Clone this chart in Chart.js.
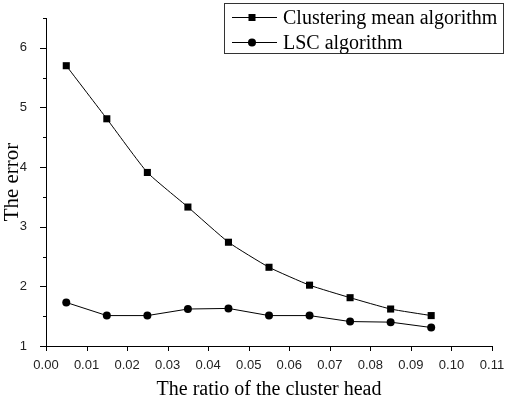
<!DOCTYPE html>
<html><head><meta charset="utf-8">
<script src="https://cdn.jsdelivr.net/npm/chart.js@4"></script>
<style>html,body{margin:0;padding:0;background:#fff}#wrap{width:506px;height:402px}</style>
</head><body><div id="wrap"><canvas id="c" width="506" height="402"></canvas></div>
<script>
const ratios = [0.005,0.015,0.025,0.035,0.045,0.055,0.065,0.075,0.085,0.095];
const clusteringMean = [5.70,4.81,3.91,3.33,2.74,2.32,2.02,1.81,1.62,1.51];
const lscValues = [1.73,1.51,1.51,1.62,1.63,1.51,1.51,1.41,1.40,1.31];
const seriesNames = ['Clustering mean algorithm','LSC algorithm'];
const xTitle = 'The ratio of the cluster head';
const yTitle = 'The error';

const serif = '"Liberation Serif","Times New Roman",serif';
const sans = '"Liberation Sans",Arial,sans-serif';

const ticksPlugin = {
  id:'ticksPlugin',
  afterDraw(chart){
    const ctx = chart.ctx, x = chart.scales.x, y = chart.scales.y;
    const a = chart.chartArea;
    ctx.save();
    ctx.strokeStyle = '#000'; ctx.lineWidth = 1;
    ctx.beginPath();
    y.ticks.forEach(t=>{
      const py = Math.round(y.getPixelForValue(t.value))+0.5;
      const major = Math.abs(t.value - Math.round(t.value))<1e-6;
      ctx.moveTo(a.left, py); ctx.lineTo(a.left-(major?6:3), py);
    });
    x.ticks.forEach(t=>{
      const px = Math.round(x.getPixelForValue(t.value))+0.5;
      ctx.moveTo(px, a.bottom); ctx.lineTo(px, a.bottom+5);
    });
    ctx.stroke();
    // legend
    const bx=224.5, by=3.5, bw=279, bh=50;
    ctx.strokeStyle='#333'; ctx.lineWidth=1;
    ctx.strokeRect(bx,by,bw,bh);
    const rows=[17,42];
    chart.data.datasets.forEach((ds,i)=>{
      const ry=rows[i]+0.5;
      ctx.strokeStyle='#000'; ctx.lineWidth=1;
      ctx.beginPath(); ctx.moveTo(232,ry); ctx.lineTo(277,ry); ctx.stroke();
      ctx.fillStyle='#000';
      if(ds.pointStyle==='rect'){ ctx.fillRect(252-3.5,ry-3.5,7,7); }
      else { ctx.beginPath(); ctx.arc(252,ry,4,0,Math.PI*2); ctx.fill(); }
      ctx.font='20px '+serif; ctx.textBaseline='middle'; ctx.textAlign='left';
      ctx.fillText(ds.label,283,ry+1);
    });
    ctx.restore();
  }
};

new Chart(document.getElementById('c'),{
  type:'line',
  data:{datasets:[
    {label:seriesNames[0],data:ratios.map((r,i)=>({x:r,y:clusteringMean[i]})),borderColor:'#000',backgroundColor:'#000',borderWidth:1,pointStyle:'rect',pointRadius:5,pointBorderWidth:0,tension:0.15},
    {label:seriesNames[1],data:ratios.map((r,i)=>({x:r,y:lscValues[i]})),borderColor:'#000',backgroundColor:'#000',borderWidth:1,pointStyle:'circle',pointRadius:4,pointBorderWidth:0,tension:0}
  ]},
  options:{
    responsive:false,animation:false,devicePixelRatio:1,
    layout:{padding:{top:18,right:14,left:0,bottom:0}},
    plugins:{legend:{display:false},tooltip:{enabled:false}},
    scales:{
      x:{type:'linear',min:0,max:0.11,
        afterFit(s){s.height=56;s.paddingRight=0;s.paddingLeft=0;},
        afterBuildTicks(s){s.ticks=[];for(let i=0;i<=11;i++)s.ticks.push({value:i/100});},
        grid:{display:false},border:{display:true,color:'#000',width:1},
        ticks:{padding:4,color:'#222',font:{family:sans,size:13},maxRotation:0,autoSkip:false,callback:v=>v.toFixed(2)},
        title:{display:true,text:xTitle,color:'#000',font:{family:serif,size:20},padding:{top:0,bottom:0}}
      },
      y:{type:'linear',min:1,max:6.5,
        afterFit(s){s.width=46;s.paddingTop=0;s.paddingBottom=0;},
        afterBuildTicks(s){s.ticks=[];for(let i=0;i<=11;i++)s.ticks.push({value:1+i*0.5});},
        grid:{display:false},border:{display:true,color:'#000',width:1},
        ticks:{padding:11,color:'#222',font:{family:sans,size:13},autoSkip:false,callback:v=>Math.abs(v-Math.round(v))<1e-6?String(Math.round(v)):''},
        title:{display:true,text:yTitle,color:'#000',font:{family:serif,size:21},padding:{top:0,bottom:0}}
      }
    }
  },
  plugins:[ticksPlugin]
});
</script></body></html>
